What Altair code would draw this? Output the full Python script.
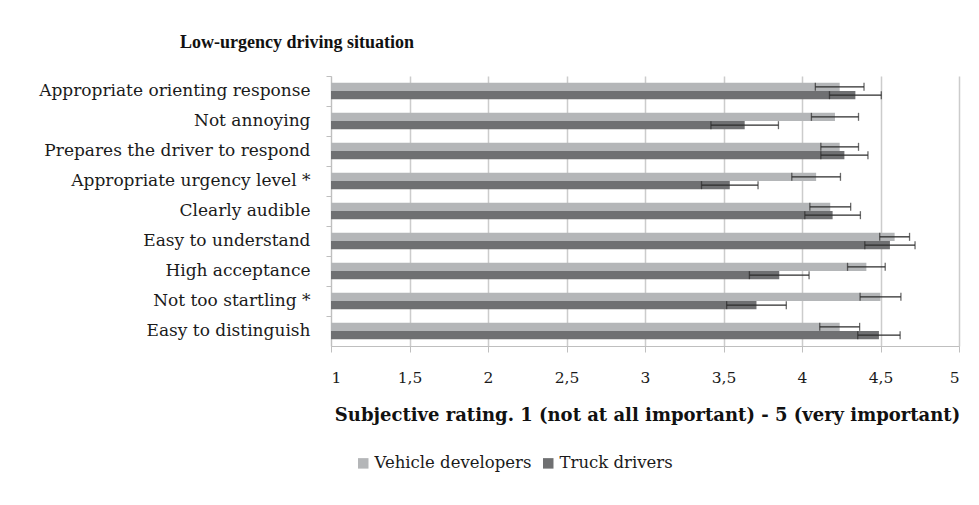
import altair as alt
import pandas as pd

categories = [
    "Appropriate orienting response",
    "Not annoying",
    "Prepares the driver to respond",
    "Appropriate urgency level *",
    "Clearly audible",
    "Easy to understand",
    "High acceptance",
    "Not too startling *",
    "Easy to distinguish",
]
series_names = ["Vehicle developers", "Truck drivers"]
vd_mean = [4.24, 4.21, 4.24, 4.09, 4.18, 4.59, 4.41, 4.50, 4.24]
vd_err = [0.155, 0.15, 0.12, 0.155, 0.13, 0.095, 0.12, 0.13, 0.127]
td_mean = [4.34, 3.635, 4.27, 3.54, 4.195, 4.56, 3.855, 3.71, 4.49]
td_err = [0.165, 0.215, 0.15, 0.18, 0.177, 0.16, 0.19, 0.19, 0.135]
x_ticks = [1, 1.5, 2, 2.5, 3, 3.5, 4, 4.5, 5]
colors = ["#b4b6b8", "#6f7072"]

rows = []
for name, means, errs in [(series_names[0], vd_mean, vd_err), (series_names[1], td_mean, td_err)]:
    for c, m, e in zip(categories, means, errs):
        rows.append({"cat": c, "series": name, "mean": m, "lo": m - e, "hi": m + e})
df = pd.DataFrame(rows)

serif = "DejaVu Serif"

y_enc = alt.Y(
    "cat:N",
    sort=categories,
    scale=alt.Scale(paddingInner=0, paddingOuter=0),
    axis=alt.Axis(
        title=None,
        bandPosition=0,
        tickSize=5,
        tickColor="#bfbfbf",
        domainColor="#bfbfbf",
        labelFont=serif,
        labelFontSize=17,
        labelColor="#1a1a1a",
        labelPadding=16,
        labelLimit=0,
        grid=False,
    ),
)
yoff = alt.YOffset(
    "series:N",
    sort=series_names,
    scale=alt.Scale(paddingInner=0, paddingOuter=0.8),
)
x_scale = alt.Scale(domain=[1, 5], zero=False, nice=False)

bars = alt.Chart(df).mark_bar().encode(
    x=alt.X(
        "mean:Q",
        scale=x_scale,
        axis=alt.Axis(
            values=x_ticks,
            labelExpr="replace(toString(datum.value), '.', ',')",
            title="Subjective rating. 1 (not at all important) - 5 (very important)",
            titleFont=serif,
            titleFontSize=18,
            titleFontWeight="bold",
            titleColor="#111111",
            titlePadding=21,
            titleLimit=0,
            titleX=316,
            labelFont=serif,
            labelFontSize=15.5,
            labelColor="#1a1a1a",
            labelPadding=18,
            tickSize=6,
            tickColor="#bfbfbf",
            domainColor="#bfbfbf",
            grid=True,
            gridColor="#cccccc",
            gridWidth=1.5,
        ),
    ),
    x2=alt.datum(1),
    y=y_enc,
    yOffset=yoff,
    color=alt.Color(
        "series:N",
        sort=series_names,
        scale=alt.Scale(domain=series_names, range=colors),
        legend=alt.Legend(
            title=None,
            orient="none",
            direction="horizontal",
            legendX=24,
            legendY=379,
            symbolType="square",
            symbolSize=110,
            symbolStrokeWidth=0,
            labelFont=serif,
            labelFontSize=16.5,
            labelColor="#1a1a1a",
            labelOffset=3,
            columnPadding=8,
            labelLimit=0,
        ),
    ),
)

err = alt.Chart(df).mark_rule(color="#2b2b2b", strokeWidth=1.3).encode(
    x=alt.X("lo:Q", scale=x_scale),
    x2="hi:Q",
    y=alt.Y("cat:N", sort=categories),
    yOffset=alt.YOffset("series:N", sort=series_names),
)
cap_lo = alt.Chart(df).mark_tick(color="#2b2b2b", thickness=1.3, size=8).encode(
    x=alt.X("lo:Q", scale=x_scale),
    y=alt.Y("cat:N", sort=categories),
    yOffset=alt.YOffset("series:N", sort=series_names),
)
cap_hi = alt.Chart(df).mark_tick(color="#2b2b2b", thickness=1.3, size=8).encode(
    x=alt.X("hi:Q", scale=x_scale),
    y=alt.Y("cat:N", sort=categories),
    yOffset=alt.YOffset("series:N", sort=series_names),
)

chart = (
    alt.layer(bars, err, cap_lo, cap_hi)
    .properties(
        width=628,
        height=270,
        autosize=alt.AutoSizeParams(type="none"),
        padding={"left": 323, "top": 68, "right": 12, "bottom": 151},
        background="white",
        title=alt.TitleParams(
            "Low-urgency driving situation",
            anchor="start",
            frame="group",
            dx=-151,
            offset=24,
            font="Liberation Serif",
            fontSize=18,
            fontWeight="bold",
            color="#111111",
        ),
    )
    .configure_view(stroke=None)
)

chart.save("out.html", embed_options={"renderer": "svg", "actions": False})
